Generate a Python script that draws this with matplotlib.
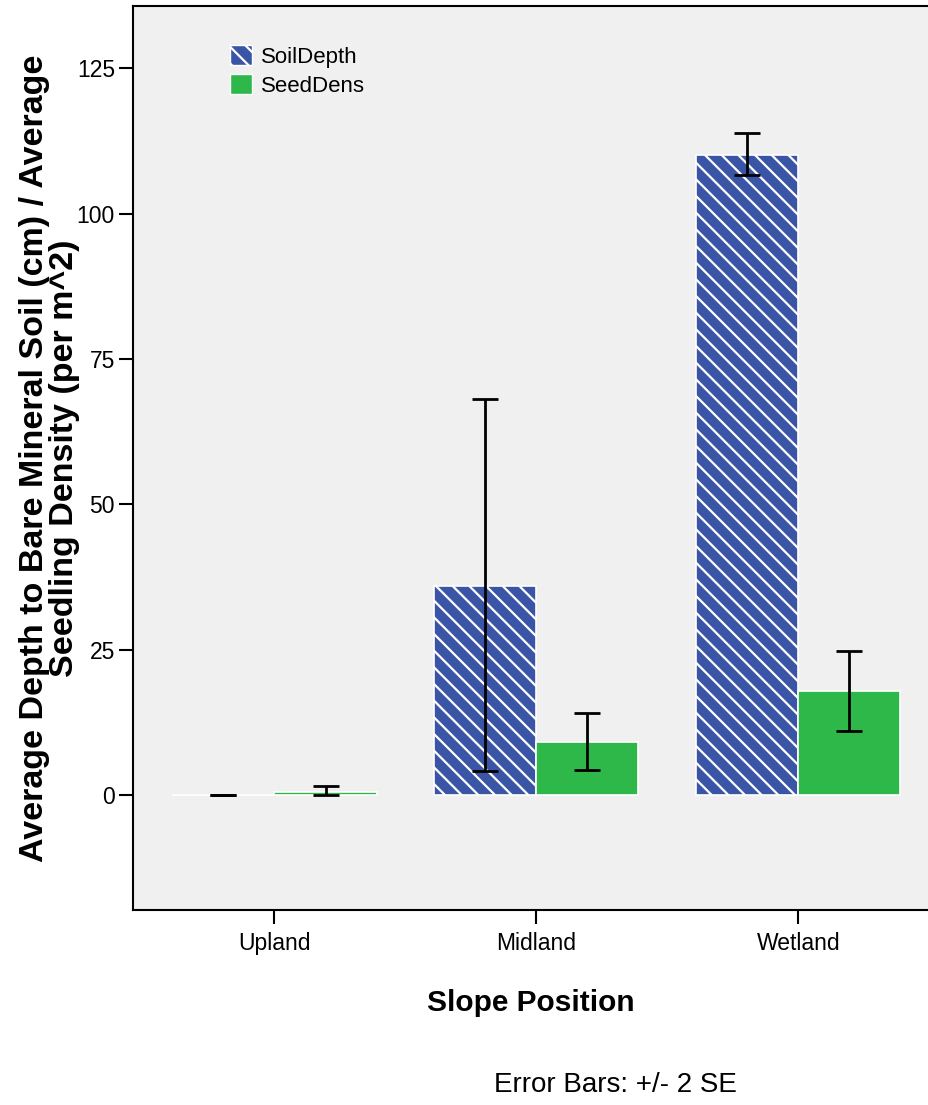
import numpy as np
import matplotlib.pyplot as plt
from matplotlib.patches import Patch

# ---------------- DATA ----------------
positions = ["Upland", "Midland", "Wetland"]

soil_depth = [0.0, 35.9, 110.0]
soil_lo = [0.0, 4.1, 106.6]
soil_hi = [0.0, 68.1, 113.8]

seed_dens = [0.45, 9.1, 17.9]
seed_lo = [-0.1, 4.3, 11.0]
seed_hi = [1.6, 14.1, 24.8]

# ---------------- STYLE ----------------
plt.rcParams['font.family'] = ['Liberation Sans', 'DejaVu Sans']
plt.rcParams['hatch.linewidth'] = 1.6
narrow = ['Liberation Sans Narrow', 'Liberation Sans', 'DejaVu Sans']

blue = "#3a54a6"
green = "#2fb84a"
bg = "#f0f0f0"

fig = plt.figure(figsize=(9.29, 11.05), dpi=100)
ax = fig.add_axes([0.1432, 0.1765, 0.857, 0.8180])
ax.set_facecolor(bg)

x = np.arange(len(positions))
w = 0.39

soil_err = [np.array(soil_depth) - np.array(soil_lo), np.array(soil_hi) - np.array(soil_depth)]
seed_err = [np.array(seed_dens) - np.array(seed_lo), np.array(seed_hi) - np.array(seed_dens)]

ax.bar(x - w / 2, soil_depth, w, color=blue, edgecolor="white", hatch="\\\\", linewidth=1.2, zorder=2)
ax.bar(x + w / 2, seed_dens, w, color=green, edgecolor="white", linewidth=1.2, zorder=2)
ax.errorbar(x - w / 2, soil_depth, yerr=soil_err, fmt="none", ecolor="black",
            elinewidth=2, capsize=9.5, capthick=2, zorder=3)
ax.errorbar(x + w / 2, seed_dens, yerr=seed_err, fmt="none", ecolor="black",
            elinewidth=2, capsize=9.5, capthick=2, zorder=3)

ax.set_xlim(-0.54, 2.5)
ax.set_ylim(-19.8, 135.7)
ax.set_xticks(x)
ax.set_xticklabels(positions, family=narrow, fontsize=16.5)
ax.set_yticks([0, 25, 50, 75, 100, 125])
ax.set_yticklabels(["0", "25", "50", "75", "100", "125"], family=narrow, fontsize=16.5)
ax.tick_params(axis="both", direction="out", length=10, width=1.5, color="black", pad=3)
ax.tick_params(axis="x", pad=6)

ax.spines["right"].set_visible(False)
for s in ["left", "bottom", "top"]:
    ax.spines[s].set_linewidth(1.5)

ax.set_xlabel("Slope Position", fontsize=21.5, fontweight="bold", labelpad=24)
ax.set_ylabel("Average Depth to Bare Mineral Soil (cm) / Average\nSeedling Density (per m^2)",
              fontsize=24.5, fontweight="bold", labelpad=-2, linespacing=0.93)

handles = [Patch(facecolor=blue, edgecolor="white", hatch="\\\\", label="SoilDepth"),
           Patch(facecolor=green, edgecolor="white", label="SeedDens")]
ax.legend(handles=handles, loc="upper left", bbox_to_anchor=(0.097, 0.979), frameon=False,
          prop={'family': narrow, 'size': 16}, handlelength=1.0, handleheight=1.0,
          handletextpad=0.4, labelspacing=0.3)

fig.text(0.532, 0.0181, "Error Bars: +/- 2 SE", fontsize=20, ha="left", va="center")

plt.savefig("out.png", dpi=100)
